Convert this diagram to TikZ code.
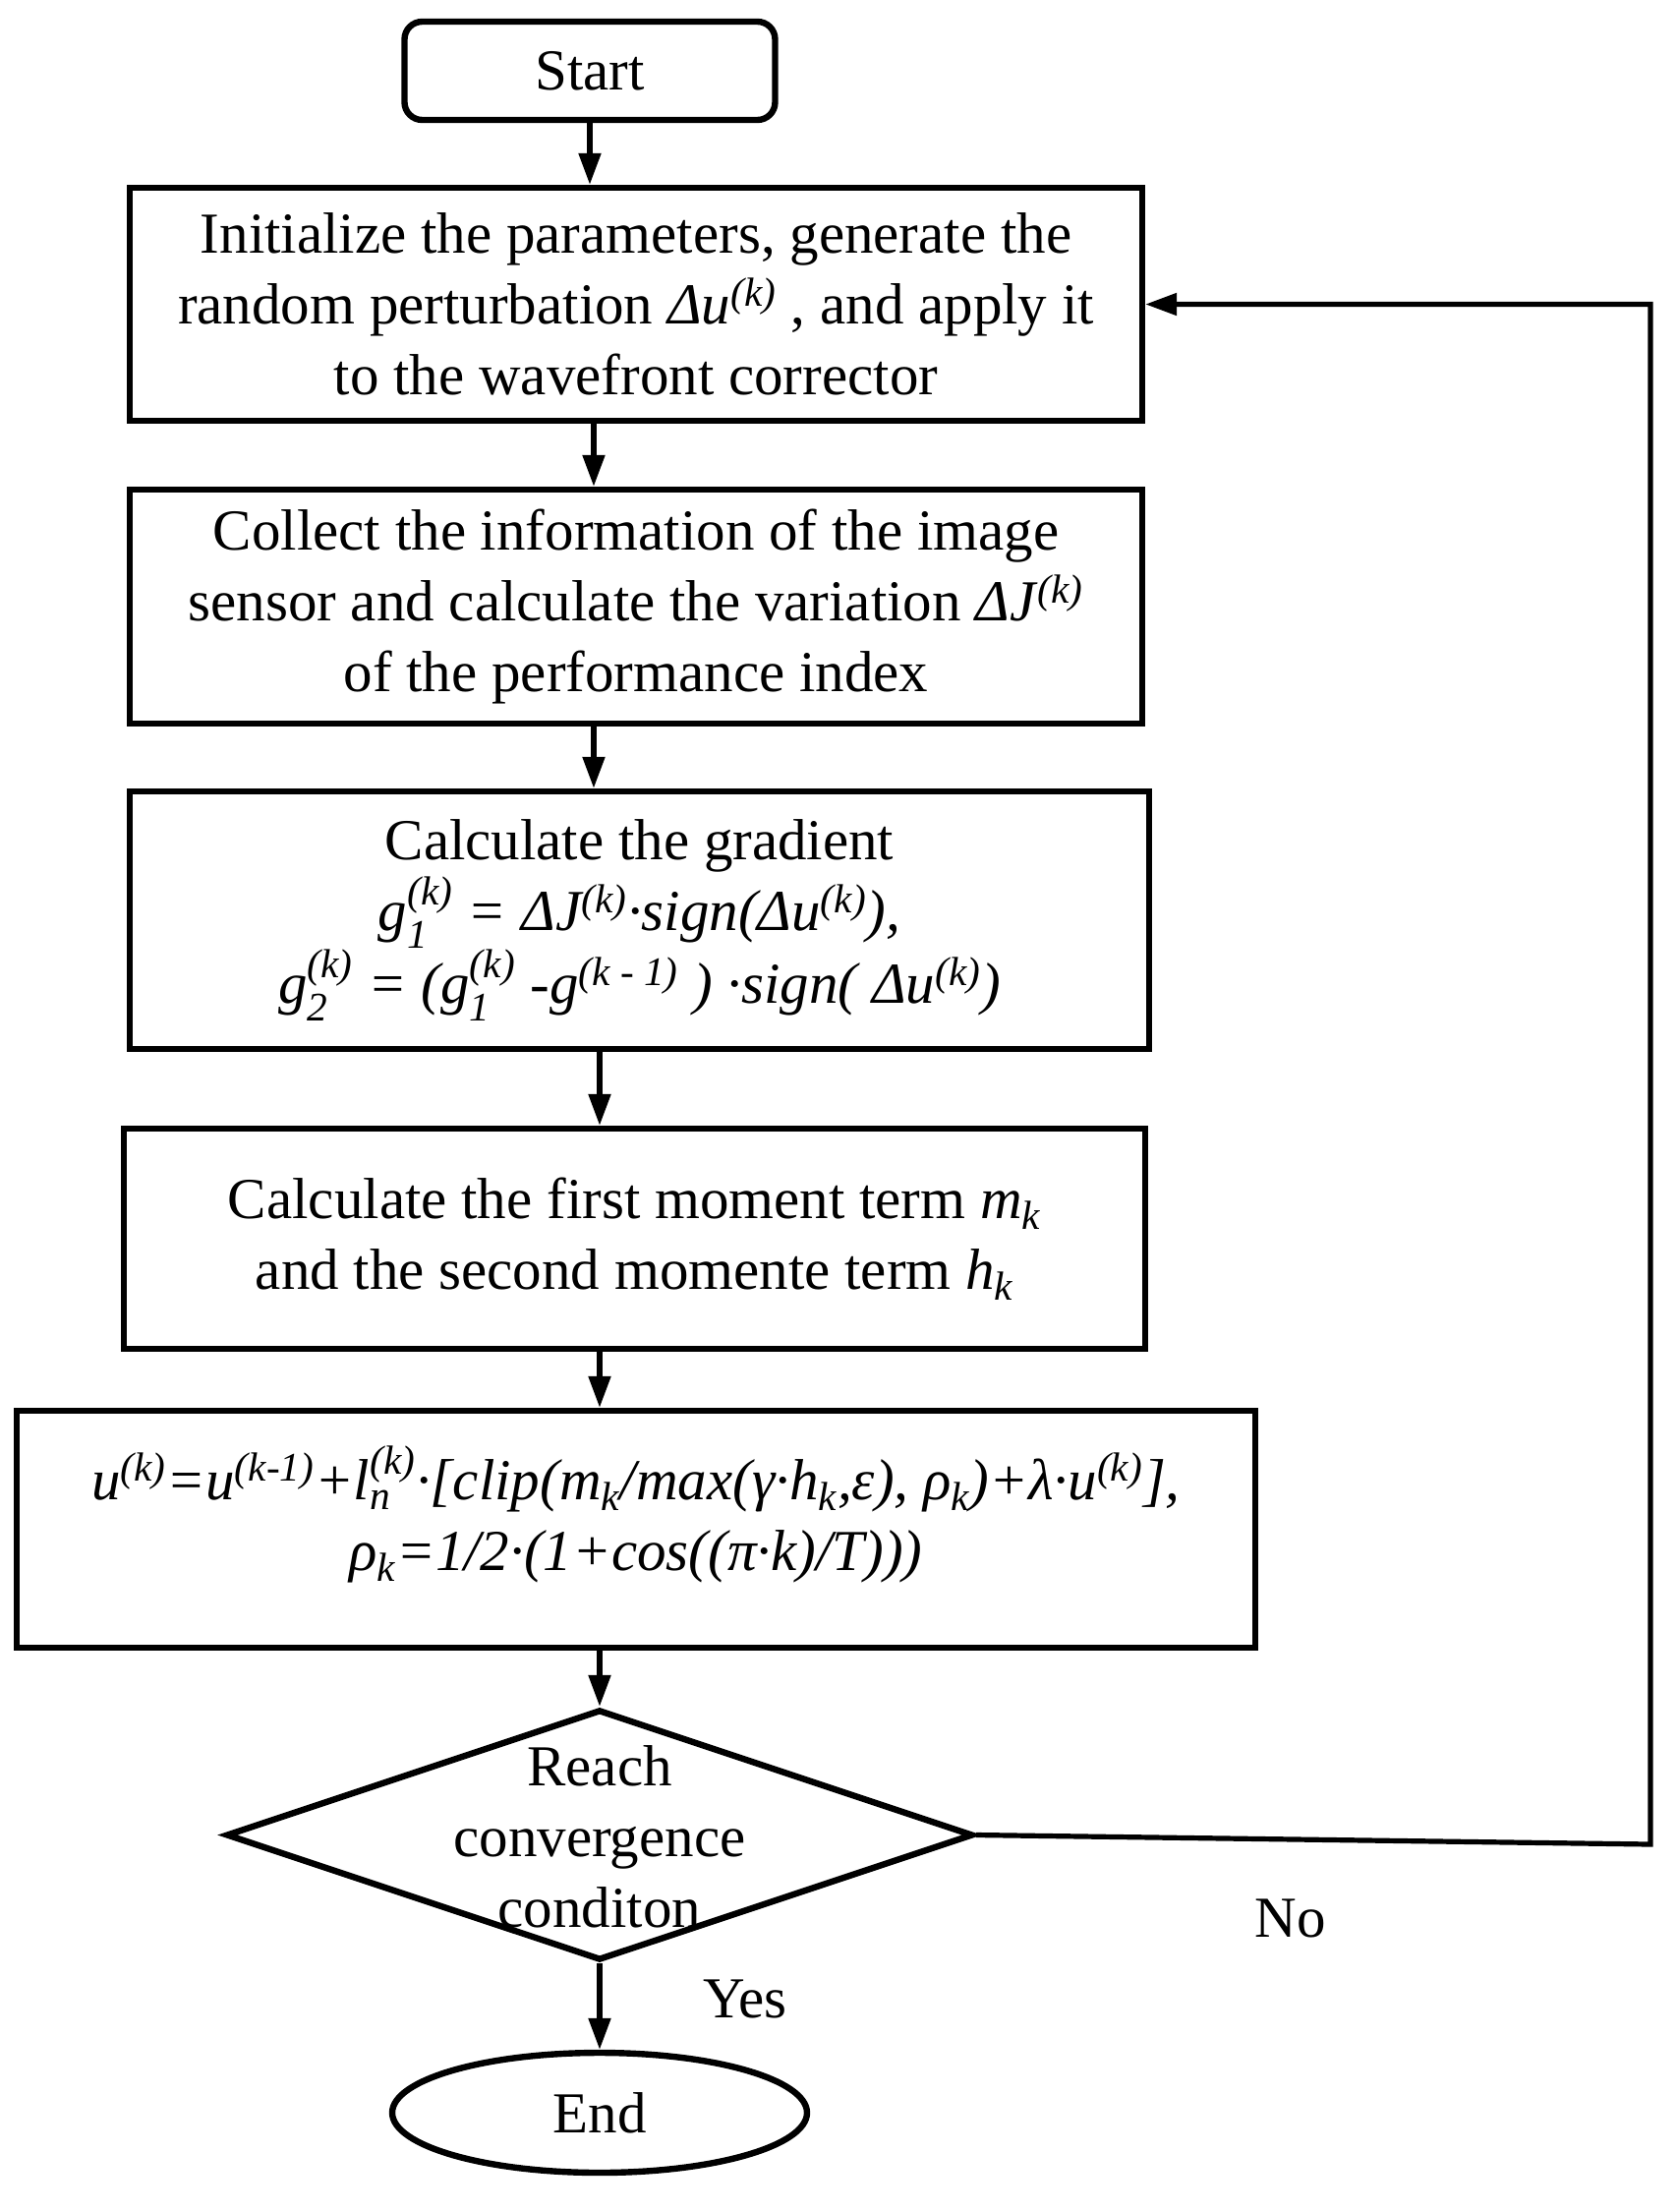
\documentclass[tikz,border=0pt]{standalone}
\usepackage{fontspec}
\setmainfont{Liberation Serif}
\usepackage{amsmath}
\usetikzlibrary{shapes.geometric,arrows.meta}
\newcommand{\SupSub}[2]{\ensuremath{^{\text{\itshape #1}}_{\text{\itshape #2}}}}
\newcommand{\Sup}[1]{\ensuremath{^{\text{\itshape #1}}}}
\newcommand{\Sub}[1]{\ensuremath{_{\text{\itshape #1}}}}
\begin{document}
\begin{tikzpicture}[x=0.5pt,y=-0.5pt,
  box/.style={draw, line width=3.2pt, rectangle, inner sep=0pt, align=center},
  txt/.style={align=center, inner sep=0pt},
  conn/.style={line width=2.6pt, -{Triangle[length=16pt,width=11pt]}},
  every node/.style={font=\fontsize{29.5}{36}\selectfont}]
\useasboundingbox (0,0) rectangle (1706,2250);
\fill[white] (0,0) rectangle (1706,2250);

\node[box, rounded corners=9pt, minimum width=188.5pt, minimum height=50pt] (start) at (600,72) {Start};

\node[box, minimum width=515pt, minimum height=118.5pt] (b1) at (647,309.5)
  {Initialize the parameters, generate the\\
   random perturbation \textit{Δu}\Sup{(k)} , and apply it\\
   to the wavefront corrector};

\node[box, minimum width=515pt, minimum height=119pt] (b2) at (647,617)
  {Collect the information of the image\\
   sensor and calculate the variation \textit{ΔJ}\Sup{(k)}\\
   of the performance index};

\node[box, minimum width=518.5pt, minimum height=131pt] (b3) at (650.5,936)
  {Calculate the gradient\\
   {\itshape g\SupSub{(k)}{1} = ΔJ\Sup{(k)}·sign(Δu\Sup{(k)}),}\\
   {\itshape g\SupSub{(k)}{2} = (g\SupSub{(k)}{1} -g\Sup{(k - 1)} ) ·sign( Δu\Sup{(k)})}};

\node[box, minimum width=519.5pt, minimum height=112pt] (b4) at (645.5,1260)
  {Calculate the first moment term \textit{m}\Sub{k}\\
   and the second momente term \textit{h}\Sub{k}};

\node[box, minimum width=630pt, minimum height=120.5pt] (b5) at (647,1555.5) {};
\node[txt] (b5t) at (647,1540)
  {{\itshape u\Sup{(k)}=u\Sup{(k-1)}+l\SupSub{(k)}{n}·[clip(m\Sub{k}/max(γ·h\Sub{k},ε), ρ\Sub{k})+λ·u\Sup{(k)}],}\\
   {\itshape ρ\Sub{k}=1/2·(1+cos((π·k)/T)))}};

\node[draw, diamond, line width=3.2pt, inner sep=0pt, minimum width=380pt, minimum height=127.5pt] (dia) at (610,1866.5) {};
\node[txt] (diat) at (610,1868) {Reach\\convergence\\conditon};

\node[draw, ellipse, line width=3.2pt, inner sep=0pt, minimum width=211pt, minimum height=61pt] (end) at (610,2149) {End};

\node[txt] (no) at (1313,1951) {No};
\node[txt] (yes) at (758,2033) {Yes};

\coordinate (xa) at (604,0);
\coordinate (xb) at (610,0);
\coordinate (lb) at (1679,1876);
\coordinate (lt) at (1679,309.5);

\draw[conn] (start.south) -- (start.south |- b1.north);
\draw[conn] (b1.south -| xa) -- (b2.north -| xa);
\draw[conn] (b2.south -| xa) -- (b3.north -| xa);
\draw[conn] (b3.south -| xb) -- (b4.north -| xb);
\draw[conn] (b4.south -| xb) -- (b5.north -| xb);
\draw[conn] (b5.south -| xb) -- (dia.north);
\draw[conn] (dia.south) -- (end.north);
\draw[conn] (dia.east) -- (lb) -- (lt) -- (b1.east);
\end{tikzpicture}
\end{document}
